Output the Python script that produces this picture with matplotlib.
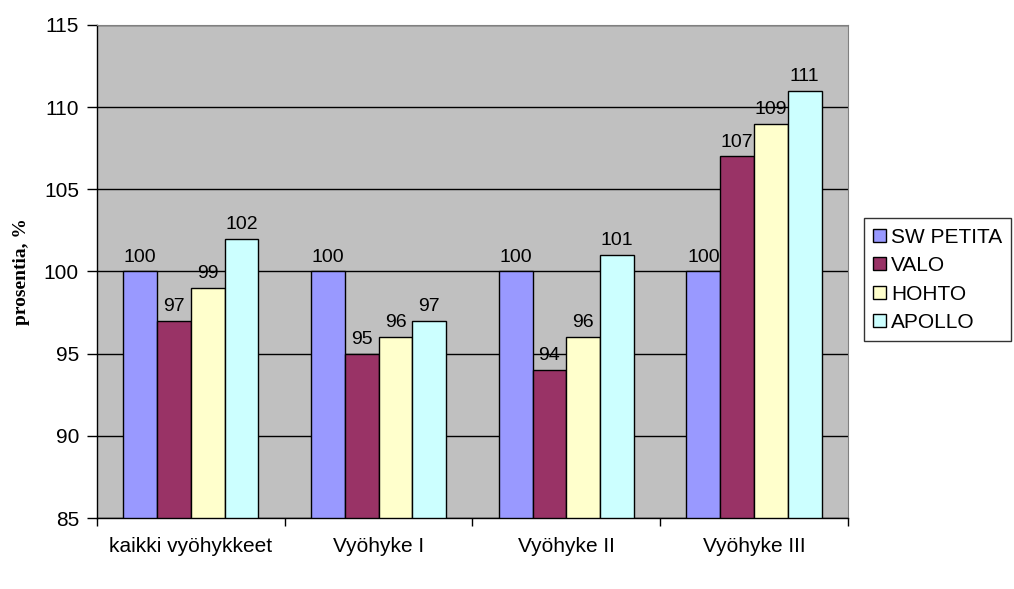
import matplotlib.pyplot as plt
import numpy as np

# Data
categories = ['kaikki vyöhykkeet', 'Vyöhyke I', 'Vyöhyke II', 'Vyöhyke III']
series_names = ['SW PETITA', 'VALO', 'HOHTO', 'APOLLO']
sw_petita = [100, 100, 100, 100]
valo = [97, 95, 94, 107]
hohto = [99, 96, 96, 109]
apollo = [102, 97, 101, 111]

colors = ['#9999FF', '#993366', '#FFFFCC', '#CCFFFF']

plt.rcParams['font.family'] = ['Liberation Sans', 'DejaVu Sans']

fig = plt.figure(figsize=(10.14, 5.89), dpi=100)
ax = fig.add_axes([0.0957, 0.1205, 0.7405, 0.8371])
ax.set_facecolor('#C0C0C0')

x = np.arange(len(categories))
width = 0.18
all_series = [sw_petita, valo, hohto, apollo]
for i, (vals, name, col) in enumerate(zip(all_series, series_names, colors)):
    pos = x + (i - 1.5) * width
    ax.bar(pos, np.array(vals) - 85, width, bottom=85, color=col,
           edgecolor='black', linewidth=1, label=name, zorder=3)
    for p, v in zip(pos, vals):
        ax.text(p, v + 0.35, str(v), ha='center', va='bottom', fontsize=14, zorder=4)

ax.set_ylim(85, 115)
ax.set_xlim(-0.5, len(categories) - 0.5)
ax.set_yticks(range(85, 116, 5))
ax.yaxis.grid(True, color='black', linewidth=1, zorder=1)
ax.set_axisbelow(True)

# category labels centred, tick marks at boundaries
ax.set_xticks(x)
ax.set_xticklabels(categories, fontsize=15)
ax.tick_params(axis='x', length=0, pad=14)
ax.set_xticks(np.arange(-0.5, len(categories)), minor=True)
ax.tick_params(axis='x', which='minor', length=6, width=1, direction='out')
ax.tick_params(axis='y', labelsize=15, length=7, width=1, direction='out', pad=6)

for s in ['top', 'right']:
    ax.spines[s].set_color('#808080')
ax.spines['left'].set_linewidth(1)
ax.spines['bottom'].set_linewidth(1)

ax.set_ylabel('prosentia, %', fontsize=14, fontweight='bold',
              family=['Liberation Serif'], labelpad=10)

leg = ax.legend(loc='center left', bbox_to_anchor=(1.021, 0.483), fontsize=15,
                frameon=True, fancybox=False, edgecolor='black',
                handlelength=0.6, handleheight=0.6, handletextpad=0.25,
                labelspacing=0.45, borderpad=0.45, borderaxespad=0)
leg.get_frame().set_linewidth(1)

fig.savefig('out.png', dpi=100)
